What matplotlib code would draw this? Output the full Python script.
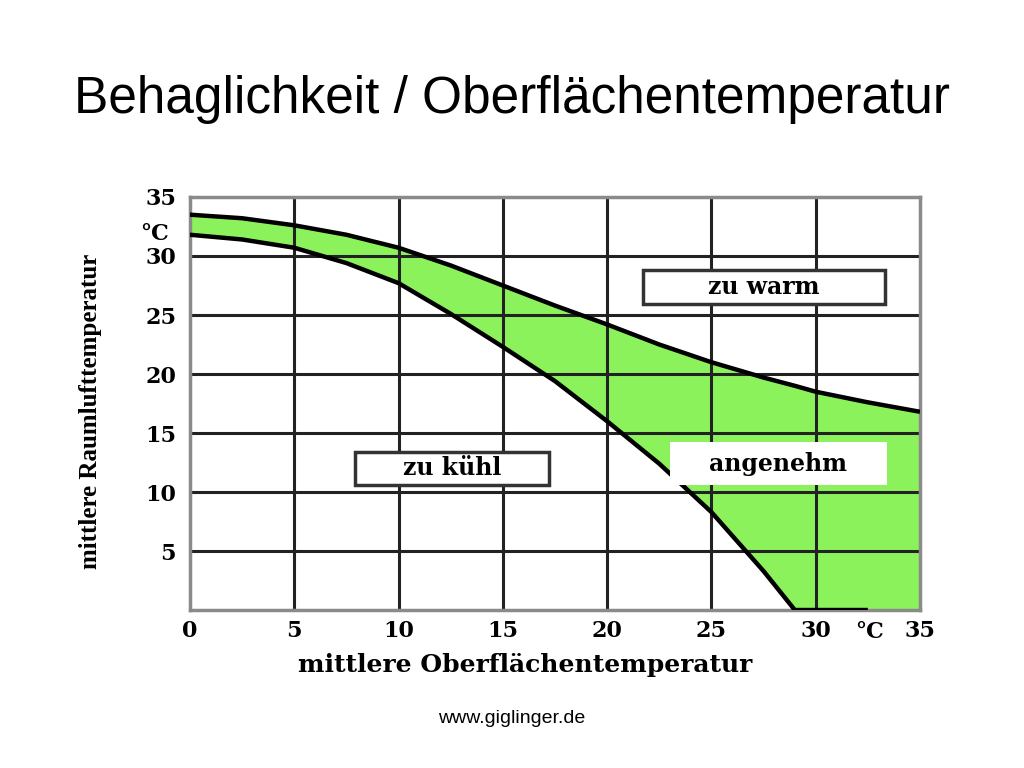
import numpy as np
import matplotlib
matplotlib.use("Agg")
import matplotlib.pyplot as plt

# mittlere Oberflaechentemperatur (x) und Grenzen der Raumlufttemperatur (y)
surface_temp = [0, 2.5, 5, 7.5, 10, 12.5, 15, 17.5, 20, 22.5, 25, 27.5, 29, 30, 32.5, 35]
upper_limit = [33.5, 33.2, 32.6, 31.8, 30.7, 29.2, 27.5, 25.8, 24.2, 22.5, 21.0, 19.7, 19.0, 18.5, 17.6, 16.8]
lower_limit = [31.8, 31.4, 30.7, 29.4, 27.7, 25.1, 22.3, 19.4, 16.0, 12.4, 8.3, 3.3, 0.0, 0.0, 0.0, 0.0]

ticks = [0, 5, 10, 15, 20, 25, 30, 35]
x_ticklabels = ["0", "5", "10", "15", "20", "25", "30", "35"]
y_ticklabels = ["", "5", "10", "15", "20", "25", "30", "35"]

# Beschriftungen der Bereiche: (text, x0, x1, y0, y1, rahmen)
zone_labels = [
    ("zu warm", 21.7, 33.3, 25.9, 28.8, True),
    ("zu kühl", 7.9, 17.2, 10.6, 13.4, True),
    ("angenehm", 23.0, 33.4, 10.6, 14.2, False),
]

serif = "DejaVu Serif"
green = "#8cf25c"

fig = plt.figure(figsize=(10.24, 7.68), dpi=100)
ax = fig.add_axes([0.1855, 0.2057, 0.7129, 0.5378])

x = np.array(surface_temp)
up = np.array(upper_limit)
lo = np.array(lower_limit)

ax.fill_between(x, lo, up, color=green, zorder=1)

for t in ticks[1:-1]:
    ax.axvline(t, color="#222222", lw=2.2, zorder=2)
    ax.axhline(t, color="#222222", lw=2.2, zorder=2)

ax.plot(x, up, color="black", lw=3.2, zorder=4, solid_capstyle="butt")
keep = x <= 32.5
ax.plot(x[keep], lo[keep], color="black", lw=3.2, zorder=4, solid_capstyle="butt")

for text, x0, x1, y0, y1, border in zone_labels:
    rect = plt.Rectangle((x0, y0), x1 - x0, y1 - y0, facecolor="white",
                         edgecolor="#333333" if border else "none",
                         lw=2.5 if border else 0, zorder=5)
    ax.add_patch(rect)
    ax.text((x0 + x1) / 2, (y0 + y1) / 2, text, ha="center", va="center",
            fontsize=17, fontweight="bold", family=serif, zorder=6)

ax.set_xlim(0, 35)
ax.set_ylim(0, 35)
for s in ax.spines.values():
    s.set_color("#8a8a8a")
    s.set_linewidth(2.5)

ax.set_xticks(ticks)
ax.set_xticklabels(x_ticklabels)
ax.set_yticks(ticks)
ax.set_yticklabels(y_ticklabels)
ax.tick_params(length=0, labelsize=16)
ax.tick_params(axis="x", pad=7)
ax.tick_params(axis="y", pad=10)
for lab in ax.get_xticklabels() + ax.get_yticklabels():
    lab.set_family(serif)
    lab.set_fontweight("bold")

ax.text(-1.0, 31.9, "°C", ha="right", va="center", fontsize=16,
        fontweight="bold", family=serif)
ax.text(32.6, -0.9, "°C", ha="center", va="top", fontsize=16,
        fontweight="bold", family=serif)

ax.set_xlabel("mittlere Oberflächentemperatur", fontsize=18, fontweight="bold",
              family=serif)
ax.xaxis.set_label_coords(0.459, -0.105)
ax.set_ylabel("mittlere Raumlufttemperatur", fontsize=18, fontweight="bold",
              family="Liberation Serif")
ax.yaxis.set_label_coords(-0.12, 0.48)

fig.text(0.5, 0.87, "Behaglichkeit / Oberflächentemperatur", ha="center",
         va="center", fontsize=37, family="Liberation Sans")
fig.text(0.5, 0.065, "www.giglinger.de", ha="center", va="center",
         fontsize=14, family="Liberation Sans")

fig.savefig("out.png", dpi=100)
